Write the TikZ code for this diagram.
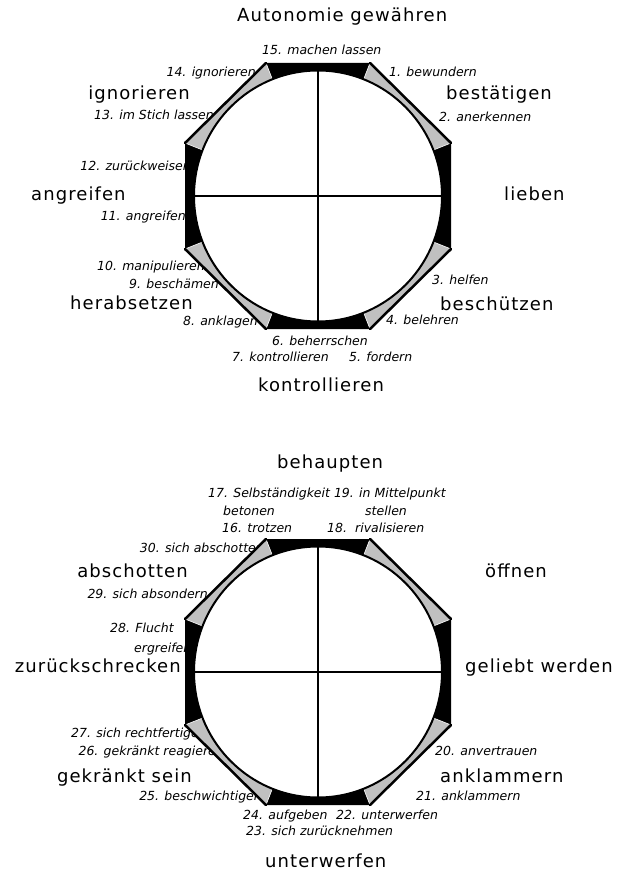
\documentclass[tikz,border=0pt]{standalone}
\usepackage{fontspec}
\setmainfont{DejaVu Sans}
\definecolor{lgray}{RGB}{192,192,192}
\tikzset{
  big/.style={font=\fontsize{18}{21}\selectfont\addfontfeatures{LetterSpace=6}, inner sep=0pt, text=black},
  sml/.style={font=\fontsize{12.5}{15}\selectfont\itshape, inner sep=0pt, text=black},
  edge/.style={line width=2.5pt, line cap=round},
  wheel/.pic={
    \coordinate (-A) at (-52,-133);
    \coordinate (-B) at (52,-133);
    \coordinate (-C) at (133,-53);
    \coordinate (-D) at (133,53);
    \coordinate (-E) at (52,133);
    \coordinate (-F) at (-52,133);
    \coordinate (-G) at (-133,53);
    \coordinate (-H) at (-133,-53);
    \coordinate (-O) at (0,0);
    \fill[black] (-A) -- (-B) -- (-C) -- (-D) -- (-E) -- (-F) -- (-G) -- (-H) -- cycle;
    \filldraw[fill=lgray, draw=white, line width=0.6pt] (-O) -- (-B) -- (-C) -- cycle;
    \filldraw[fill=lgray, draw=white, line width=0.6pt] (-O) -- (-D) -- (-E) -- cycle;
    \filldraw[fill=lgray, draw=white, line width=0.6pt] (-O) -- (-F) -- (-G) -- cycle;
    \filldraw[fill=lgray, draw=white, line width=0.6pt] (-O) -- (-H) -- (-A) -- cycle;
    \draw[edge] (-B) -- (-C);
    \draw[edge] (-D) -- (-E);
    \draw[edge] (-F) -- (-G);
    \draw[edge] (-H) -- (-A);
    \draw[line width=2pt, fill=white] (-O) ellipse [x radius=124pt, y radius=125.5pt];
    \coordinate (-n) at (0,-125.5);
    \coordinate (-s) at (0,125.5);
    \coordinate (-w) at (-124,0);
    \coordinate (-e) at (124,0);
    \draw[line width=2pt] (-n) -- (-s);
    \draw[line width=2pt] (-w) -- (-e);
  }
}
\begin{document}
\begin{tikzpicture}[x=1pt, y=-1pt]
\useasboundingbox (0,0) rectangle (622,874);
\fill[white] (0,0) rectangle (622,874);

% ---------- diagram 1 labels ----------
\node[big, anchor=base west] (t1) at (237,22) {Autonomie gewähren};
\node[big, anchor=base east] (t2) at (190,100) {ignorieren};
\node[big, anchor=base west] (t3) at (446,100) {bestätigen};
\node[big, anchor=base west] (t4) at (31,201) {angreifen};
\node[big, anchor=base west] (t5) at (504,201) {lieben};
\node[big, anchor=base west] (t6) at (70,309) {herabsetzen};
\node[big, anchor=base west] (t7) at (440,310) {beschützen};
\node[big, anchor=base west] (t8) at (258,391) {kontrollieren};

\node[sml, anchor=base west] (a15) at (262,55) {15. machen lassen};
\node[sml, anchor=base east] (a14) at (256,77) {14. ignorieren};
\node[sml, anchor=base west] (a1) at (389,77) {1. bewundern};
\node[sml, anchor=base east] (a13) at (214,120) {13. im Stich lassen};
\node[sml, anchor=base west] (a2) at (439,122) {2. anerkennen};
\node[sml, anchor=base east] (a12) at (191,171) {12. zurückweisen};
\node[sml, anchor=base east] (a11) at (186,221) {11. angreifen};
\node[sml, anchor=base east] (a10) at (205,270) {10. manipulieren};
\node[sml, anchor=base east] (a9) at (219,288) {9. beschämen};
\node[sml, anchor=base east] (a8) at (258,325) {8. anklagen};
\node[sml, anchor=base west] (a3) at (432,284) {3. helfen};
\node[sml, anchor=base west] (a4) at (386,324) {4. belehren};
\node[sml, anchor=base west] (a6) at (272,345) {6. beherrschen};
\node[sml, anchor=base west] (a7) at (232,361) {7. kontrollieren};
\node[sml, anchor=base west] (a5) at (349,361) {5. fordern};

% ---------- diagram 2 labels ----------
\node[big, anchor=base west] (u1) at (277,468) {behaupten};
\node[big, anchor=base east] (u2) at (188,577) {abschotten};
\node[big, anchor=base west] (u3) at (485,577) {öffnen};
\node[big, anchor=base east] (u4) at (181,672) {zurückschrecken};
\node[big, anchor=base west] (u5) at (465,672) {geliebt werden};
\node[big, anchor=base east] (u6) at (192,782) {gekränkt sein};
\node[big, anchor=base west] (u7) at (440,782) {anklammern};
\node[big, anchor=base west] (u8) at (265,867) {unterwerfen};

\node[sml, anchor=base west] (b17) at (208,497) {17. Selbständigkeit 19. in Mittelpunkt};
\node[sml, anchor=base west] (b17b) at (223,515) {betonen};
\node[sml, anchor=base west] (b19b) at (365,515) {stellen};
\node[sml, anchor=base west] (b16) at (222,532) {16. trotzen};
\node[sml, anchor=base west] (b18) at (327,532) {18.};
\node[sml, anchor=base west] (b18b) at (355,532) {rivalisieren};
\node[sml, anchor=base east] (b30) at (264,552) {30. sich abschotten};
\node[sml, anchor=base east] (b29) at (208,598) {29. sich absondern};
\node[sml, anchor=base west] (b28) at (110,632) {28. Flucht};
\node[sml, anchor=base west] (b28b) at (134,652) {ergreifen};
\node[sml, anchor=base east] (b27) at (207,737) {27. sich rechtfertigen};
\node[sml, anchor=base east] (b26) at (224,755) {26. gekränkt reagieren};
\node[sml, anchor=base west] (b20) at (435,755) {20. anvertrauen};
\node[sml, anchor=base east] (b25) at (262,800) {25. beschwichtigen};
\node[sml, anchor=base west] (b21) at (416,800) {21. anklammern};
\node[sml, anchor=base west] (b24) at (243,819) {24. aufgeben};
\node[sml, anchor=base west] (b22) at (336,819) {22. unterwerfen};
\node[sml, anchor=base west] (b23) at (246,835) {23. sich zurücknehmen};

% ---------- wheels ----------
\pic (w1) at (318,196) {wheel};
\pic (w2) at (318,672) {wheel};
\end{tikzpicture}
\end{document}
